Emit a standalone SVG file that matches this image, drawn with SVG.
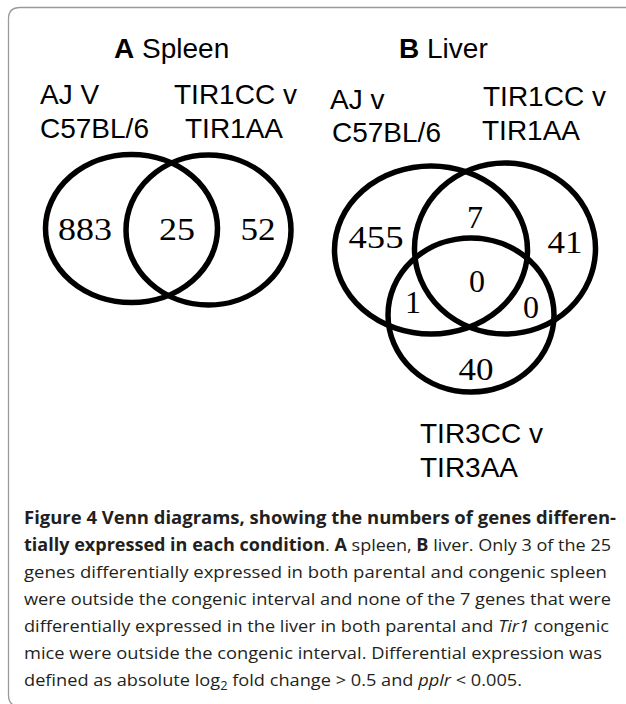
<svg xmlns="http://www.w3.org/2000/svg" width="626" height="704" viewBox="0 0 626 704">
<style>
.frame{fill:none;stroke:#9a9a9a;stroke-width:1.3}
.set{fill:none;stroke:#000;stroke-width:5.5}
.lab{font-family:"Liberation Sans",Arial,sans-serif;font-size:28px;fill:#000}
.ttl{font-family:"Liberation Sans",Arial,sans-serif;font-size:28px;fill:#000}
.num{font-family:"Liberation Serif","DejaVu Serif",serif;font-size:32px;fill:#000;text-anchor:middle}
.cap{font-family:"Open Sans","Noto Sans",sans-serif;font-size:17px;fill:#231f20}
.b{font-weight:bold}
.i{font-style:italic}
</style>
<rect width="626" height="704" fill="#fff"/>
<path class="frame" d="M626,7.5 H20 Q8.5,7.5 8.5,19 V695 Q8.5,706.5 20,706.5 H626"/>

<g id="spleen">
  <text class="ttl" x="114" y="58"><tspan class="b">A</tspan> Spleen</text>
  <g id="spleen-ajv">
    <ellipse class="set" cx="131.5" cy="228.5" rx="86" ry="74"/>
    <text class="lab" x="40" y="104">AJ V</text>
    <text class="lab" x="40" y="138">C57BL/6</text>
  </g>
  <g id="spleen-tir1">
    <ellipse class="set" cx="208.5" cy="230" rx="82.5" ry="75"/>
    <text class="lab" x="174" y="104">TIR1CC v</text>
    <text class="lab" x="185" y="138">TIR1AA</text>
  </g>
  <text class="num" x="85" y="240" textLength="54" lengthAdjust="spacingAndGlyphs">883</text>
  <text class="num" x="177" y="240" textLength="36" lengthAdjust="spacingAndGlyphs">25</text>
  <text class="num" x="258" y="240" textLength="35" lengthAdjust="spacingAndGlyphs">52</text>
</g>

<g id="liver">
  <text class="ttl" x="399" y="58"><tspan class="b">B</tspan> Liver</text>
  <g id="liver-ajv">
    <ellipse class="set" cx="431" cy="250" rx="96.5" ry="84"/>
    <text class="lab" x="330" y="109">AJ v</text>
    <text class="lab" x="332" y="142">C57BL/6</text>
  </g>
  <g id="liver-tir1">
    <ellipse class="set" cx="505" cy="248.5" rx="90.5" ry="85.5"/>
    <text class="lab" x="483" y="106">TIR1CC v</text>
    <text class="lab" x="482" y="140">TIR1AA</text>
  </g>
  <g id="liver-tir3">
    <ellipse class="set" cx="471" cy="315" rx="83" ry="77"/>
    <text class="lab" x="420" y="443">TIR3CC v</text>
    <text class="lab" x="420" y="477">TIR3AA</text>
  </g>
  <text class="num" x="376" y="248" textLength="55" lengthAdjust="spacingAndGlyphs">455</text>
  <text class="num" x="475" y="228">7</text>
  <text class="num" x="565" y="253" textLength="35" lengthAdjust="spacingAndGlyphs">41</text>
  <text class="num" x="477" y="292">0</text>
  <text class="num" x="413" y="313">1</text>
  <text class="num" x="531" y="318">0</text>
  <text class="num" x="476" y="380" textLength="35" lengthAdjust="spacingAndGlyphs">40</text>
</g>

<g id="connectors"/>

<g id="caption" class="cap">
  <text x="24" y="524" textLength="592" lengthAdjust="spacingAndGlyphs" class="b">Figure 4 Venn diagrams, showing the numbers of genes differen-</text>
  <text x="24" y="551" textLength="587" lengthAdjust="spacingAndGlyphs"><tspan class="b">tially expressed in each condition</tspan>. <tspan class="b">A</tspan> spleen, <tspan class="b">B</tspan> liver. Only 3 of the 25</text>
  <text x="24" y="578" textLength="583" lengthAdjust="spacingAndGlyphs">genes differentially expressed in both parental and congenic spleen</text>
  <text x="24" y="605" textLength="587" lengthAdjust="spacingAndGlyphs">were outside the congenic interval and none of the 7 genes that were</text>
  <text x="24" y="632" textLength="585" lengthAdjust="spacingAndGlyphs">differentially expressed in the liver in both parental and <tspan class="i">Tir1</tspan> congenic</text>
  <text x="24" y="659" textLength="578" lengthAdjust="spacingAndGlyphs">mice were outside the congenic interval. Differential expression was</text>
  <text x="24" y="686" textLength="498" lengthAdjust="spacingAndGlyphs">defined as absolute log<tspan dy="4" font-size="12">2</tspan><tspan dy="-4"> fold change &gt; 0.5 and </tspan><tspan class="i">pplr</tspan> &lt; 0.005.</text>
</g>
</svg>
